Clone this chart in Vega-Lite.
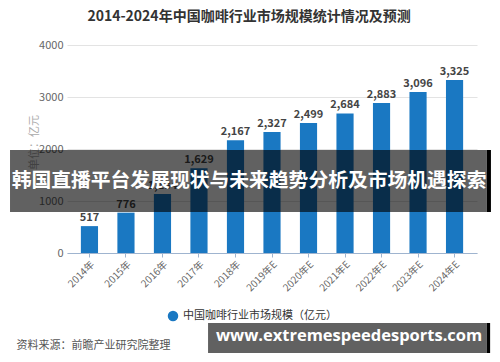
{
  "$schema": "https://vega.github.io/schema/vega-lite/v6.json",
  "width": 410,
  "height": 208,
  "autosize": "none",
  "padding": {"left": 67, "top": 45, "right": 23, "bottom": 109},
  "background": "white",
  "config": {
    "font": "Noto Sans CJK SC",
    "view": {"stroke": null}
  },
  "title": {
    "text": "2014-2024年中国咖啡行业市场规模统计情况及预测",
    "fontSize": 14,
    "fontWeight": "bold",
    "color": "#333333",
    "anchor": "middle",
    "dx": -23,
    "offset": 15,
    "font": "Noto Sans CJK SC"
  },
  "datasets": {
    "bars": [
      {"year": "2014年", "value": 517, "series": "中国咖啡行业市场规模（亿元）"},
      {"year": "2015年", "value": 776, "series": "中国咖啡行业市场规模（亿元）"},
      {"year": "2016年", "value": 1134, "series": "中国咖啡行业市场规模（亿元）"},
      {"year": "2017年", "value": 1629, "series": "中国咖啡行业市场规模（亿元）"},
      {"year": "2018年", "value": 2167, "series": "中国咖啡行业市场规模（亿元）"},
      {"year": "2019年E", "value": 2327, "series": "中国咖啡行业市场规模（亿元）"},
      {"year": "2020年E", "value": 2499, "series": "中国咖啡行业市场规模（亿元）"},
      {"year": "2021年E", "value": 2684, "series": "中国咖啡行业市场规模（亿元）"},
      {"year": "2022年E", "value": 2883, "series": "中国咖啡行业市场规模（亿元）"},
      {"year": "2023年E", "value": 3096, "series": "中国咖啡行业市场规模（亿元）"},
      {"year": "2024年E", "value": 3325, "series": "中国咖啡行业市场规模（亿元）"}
    ],
    "banners": [
      {"x": -0.139, "x2": 1.024, "y": 788, "y2": 1981},
      {"x": 0.344, "x2": 1.024, "y": -1923, "y2": -1346}
    ],
    "bannerEdges": [
      {"x": 1.024, "x2": 1.034, "y": 788, "y2": 1981},
      {"x": 1.024, "x2": 1.032, "y": -1923, "y2": -1346}
    ],
    "bannerMain": [
      {"x": 0.444, "y": 1385, "label": "韩国直播平台发展现状与未来趋势分析及市场机遇探索"}
    ],
    "bannerSite": [
      {"x": 0.688, "y": -1600, "label": "www.extremespeedesports.com"}
    ]
  },
  "layer": [
    {
      "layer": [
        {
          "data": {"name": "bars"},
          "mark": {"type": "bar", "color": "#1a78c2"},
          "encoding": {
            "x": {
              "field": "year",
              "type": "nominal",
              "sort": null,
              "scale": {"paddingInner": 0.53, "paddingOuter": 0.38},
              "axis": {
                "labelAngle": -45,
                "labelFontSize": 10,
                "labelColor": "#666666",
                "domainColor": "#9fb4cf",
                "tickColor": "#9fb4cf",
                "tickSize": 4,
                "labelPadding": 2,
                "title": "资料来源：前瞻产业研究院整理",
                "titleFontSize": 11,
                "titleFontWeight": "normal",
                "titleColor": "#555555",
                "titleAlign": "left",
                "titleAnchor": "start",
                "titleX": -51,
                "titleY": 95,
                "titleBaseline": "alphabetic"
              }
            },
            "y": {
              "field": "value",
              "type": "quantitative",
              "scale": {"domain": [0, 4000], "nice": false},
              "axis": {
                "values": [0, 1000, 2000, 3000, 4000],
                "format": "d",
                "domain": false,
                "ticks": false,
                "labelPadding": 4,
                "labelFontSize": 11,
                "labelColor": "#666666",
                "gridColor": "#e3e3e3",
                "title": "单位：亿元",
                "titleFontSize": 11,
                "titleFontWeight": "normal",
                "titleColor": "#aaaaaa",
                "titleX": -28,
                "titleY": 97,
                "titleAngle": -90
              }
            },
            "fill": {
              "field": "series",
              "type": "nominal",
              "scale": {"range": ["#1a78c2"]},
              "legend": {
                "title": null,
                "orient": "none",
                "legendX": 100,
                "legendY": 265,
                "symbolType": "circle",
                "symbolSize": 110,
                "labelFontSize": 11,
                "labelColor": "#333333"
              }
            }
          }
        },
        {
          "data": {"name": "bars"},
          "mark": {"type": "text", "dy": -8, "fontSize": 11, "fontWeight": "bold", "color": "#444444"},
          "encoding": {
            "x": {"field": "year", "type": "nominal", "sort": null},
            "y": {"field": "value", "type": "quantitative"},
            "text": {"field": "value", "type": "quantitative", "format": ","}
          }
        }
      ]
    },
    {
      "layer": [
        {
          "data": {"name": "banners"},
          "mark": {"type": "rect", "color": "black", "opacity": 0.62, "clip": false},
          "encoding": {
            "x": {"field": "x", "type": "quantitative", "scale": {"domain": [0, 1], "nice": false, "zero": false}, "axis": null},
            "x2": {"field": "x2"},
            "y": {"field": "y", "type": "quantitative"},
            "y2": {"field": "y2"}
          }
        },
        {
          "data": {"name": "bannerEdges"},
          "mark": {"type": "rect", "color": "black", "opacity": 1, "clip": false},
          "encoding": {
            "x": {"field": "x", "type": "quantitative", "axis": null},
            "x2": {"field": "x2"},
            "y": {"field": "y", "type": "quantitative"},
            "y2": {"field": "y2"}
          }
        },
        {
          "data": {"name": "bannerMain"},
          "mark": {"type": "text", "color": "white", "fontWeight": "bold", "fontSize": 19.8, "align": "center", "baseline": "middle", "clip": false},
          "encoding": {
            "x": {"field": "x", "type": "quantitative", "axis": null},
            "y": {"field": "y", "type": "quantitative"},
            "text": {"field": "label"}
          }
        },
        {
          "data": {"name": "bannerSite"},
          "mark": {"type": "text", "color": "white", "fontWeight": "bold", "fontSize": 16.5, "align": "center", "baseline": "middle", "clip": false, "font": "Open Sans"},
          "encoding": {
            "x": {"field": "x", "type": "quantitative", "axis": null},
            "y": {"field": "y", "type": "quantitative"},
            "text": {"field": "label"}
          }
        }
      ]
    }
  ],
  "resolve": {"scale": {"x": "independent"}, "axis": {"x": "independent"}}
}
